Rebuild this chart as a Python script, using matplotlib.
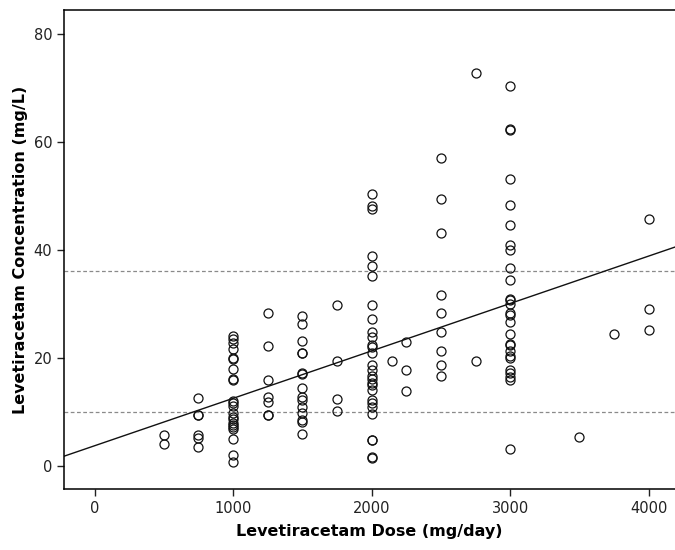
import matplotlib
matplotlib.use("Agg")
import matplotlib.pyplot as plt
import numpy as np

# measured concentrations (mg/L), grouped by daily dose (mg/day)
conc_500 = [5.6, 4.1]
conc_750 = [12.6, 9.4, 9.3, 5.7, 5.2, 3.5]
conc_1000 = [24.1, 23.5, 22.8, 21.7, 20.0, 19.7, 17.9, 16.1, 15.8, 12.0, 11.7,
             11.0, 9.8, 9.1, 8.7, 8.0, 7.5, 7.2, 6.8, 5.0, 2.0, 0.7]
conc_1250 = [28.3, 22.2, 15.8, 12.8, 11.8, 9.4, 9.3]
conc_1500 = [27.8, 26.3, 23.1, 20.9, 20.8, 17.2, 17.0, 14.4, 12.8, 12.2, 10.9,
             9.8, 8.5, 8.1, 5.9]
conc_1750 = [29.8, 19.3, 12.4, 10.2]
conc_2000 = [50.4, 48.1, 47.6, 38.9, 37.0, 35.2, 29.8, 27.2, 24.8, 23.9, 22.4,
             22.0, 20.9, 18.7, 17.7, 16.7, 16.1, 15.4, 15.0, 14.0, 12.2, 11.7,
             10.9, 9.5, 4.8, 4.7, 1.7, 1.5]
conc_2150 = [19.3]
conc_2250 = [23.0, 17.8, 13.9]
conc_2500 = [56.9, 49.3, 43.0, 31.7, 28.2, 24.8, 21.3, 18.7, 16.7]
conc_2750 = [72.7, 19.3]
conc_3000 = [70.4, 62.4, 62.2, 53.0, 48.3, 44.5, 40.9, 40.0, 36.6, 34.3, 30.9,
             30.6, 30.0, 28.2, 28.0, 26.7, 24.4, 22.6, 22.3, 21.3, 20.4, 19.9,
             17.8, 17.2, 16.5, 15.8, 3.1]
conc_3500 = [5.4]
conc_3750 = [24.4]
conc_4000 = [45.6, 29.1, 25.2]

groups = {500: conc_500, 750: conc_750, 1000: conc_1000, 1250: conc_1250,
          1500: conc_1500, 1750: conc_1750, 2000: conc_2000, 2150: conc_2150,
          2250: conc_2250, 2500: conc_2500, 2750: conc_2750, 3000: conc_3000,
          3500: conc_3500, 3750: conc_3750, 4000: conc_4000}

# fitted line and reference range
fit_intercept = 3.7
fit_slope = 0.00878
ref_low = 10
ref_high = 36

x_ticks = [0, 1000, 2000, 3000, 4000]
y_ticks = [0, 20, 40, 60, 80]

dose = np.concatenate([[d] * len(c) for d, c in groups.items()])
conc = np.concatenate(list(groups.values()))

fig = plt.figure(figsize=(6.75, 5.5), dpi=100)
ax = fig.add_axes([0.095, 0.111, 0.905, 0.871])

xlim = (-220, 4190)
ax.set_xlim(xlim)
ax.set_ylim(-4.3, 84.4)

ax.axhline(ref_low, color="#8a8a8a", lw=0.9, ls=(0, (3, 2)))
ax.axhline(ref_high, color="#8a8a8a", lw=0.9, ls=(0, (3, 2)))

xs = np.array(xlim)
ax.plot(xs, fit_intercept + fit_slope * xs, color="#111111", lw=1.0)

ax.plot(dose, conc, "o", ms=6.5, mfc="none", mec="#111111", mew=0.9)

ax.set_xticks(x_ticks)
ax.set_yticks(y_ticks)
ax.tick_params(direction="out", length=5, width=1, labelsize=10.5, colors="#222222")
for side in ["left", "bottom", "top"]:
    ax.spines[side].set_linewidth(1.1)
ax.spines["right"].set_visible(False)

ax.set_xlabel("Levetiracetam Dose (mg/day)", fontsize=11.5, fontweight="bold", labelpad=6)
ax.set_ylabel("Levetiracetam Concentration (mg/L)", fontsize=11.5, fontweight="bold", labelpad=4)

plt.savefig("out.png", dpi=100)
